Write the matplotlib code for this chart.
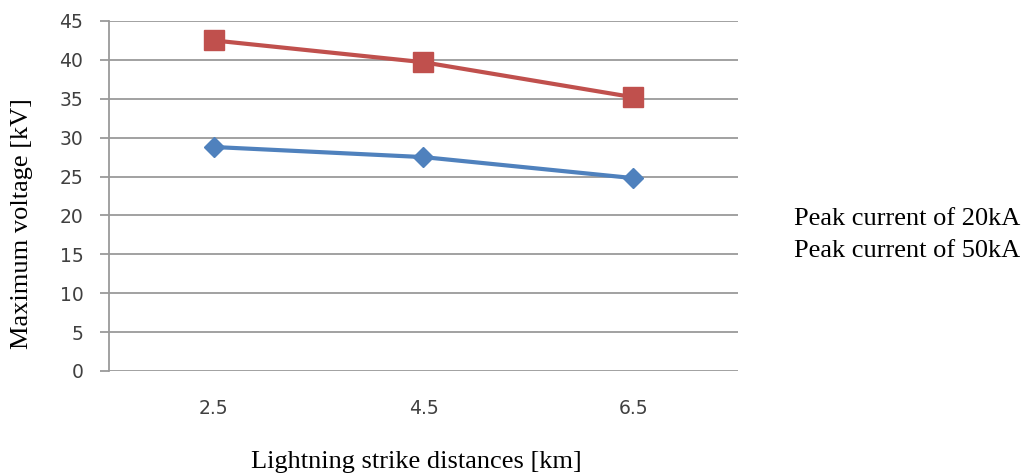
import matplotlib.pyplot as plt

# data
distances = ["2.5", "4.5", "6.5"]
peak_20kA = [28.8, 27.5, 24.8]
peak_50kA = [42.5, 39.7, 35.2]
yticks = list(range(0, 50, 5))

grid_col = "#9a9a9a"

fig = plt.figure(figsize=(10.27, 4.76), dpi=100)
ax = fig.add_axes([0.1061, 0.2206, 0.6125, 0.7353])

x = range(len(distances))
ax.plot(x, peak_20kA, color="#4F81BD", lw=3, marker="D", ms=10,
        label="Peak current of 20kA")
ax.plot(x, peak_50kA, color="#C0504D", lw=3, marker="s", ms=14,
        label="Peak current of 50kA")

ax.set_xlim(-0.5, 2.5)
ax.set_ylim(0, 45)
ax.set_yticks(yticks)
ax.set_xticks(list(x))
ax.set_xticklabels(distances)

ax.yaxis.grid(True, color=grid_col, lw=1.3)
ax.set_axisbelow(True)
for s in ["top", "right", "bottom"]:
    ax.spines[s].set_visible(False)
ax.spines["left"].set_color(grid_col)
ax.spines["left"].set_linewidth(1.3)

ax.tick_params(axis="y", length=6.5, width=1.3, color=grid_col,
               labelsize=13.5, labelcolor="#404040", pad=12)
ax.tick_params(axis="x", length=0, labelsize=13.5, labelcolor="#404040", pad=20)

serif = "Liberation Serif"
fig.text(0.021, 0.531, "Maximum voltage [kV]", rotation=90, ha="center",
         va="center", fontsize=19, family=serif)
fig.text(0.405, 0.029, "Lightning strike distances [km]", ha="center",
         va="center", fontsize=19, family=serif)

# legend (text only, as in the source)
fig.text(0.773, 0.540, "Peak current of 20kA", ha="left", va="center",
         fontsize=19, family=serif)
fig.text(0.773, 0.473, "Peak current of 50kA", ha="left", va="center",
         fontsize=19, family=serif)

fig.savefig("out.png", dpi=100)
